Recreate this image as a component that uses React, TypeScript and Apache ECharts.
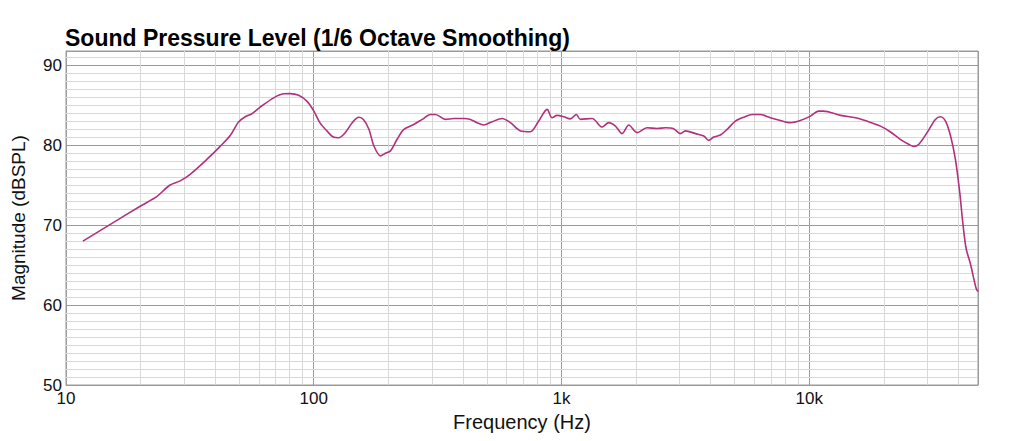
import React, { useEffect, useRef } from "react";
import * as echarts from "echarts";

const freqs = [
  11.7, 15.1, 20.0, 23.3, 26.2, 28.9, 31.8, 37.1, 42.0, 46.1, 49.7, 52.9, 56.3, 60.9, 68.9, 75.6, 80.5, 86.9, 94.0,
  100, 106, 113, 120, 126, 134, 143, 152, 159, 167, 175, 186, 194.5, 204, 217, 231, 253, 274, 296, 310, 340, 367,
  403, 429, 456, 485, 525, 576, 622, 683, 749, 809, 875, 916, 960, 1021, 1086, 1148, 1192, 1330, 1459, 1552, 1651,
  1757, 1868, 2019, 2217, 2432, 2627, 2836, 3019, 3162, 3473, 3753, 3930, 4116, 4379, 4662, 5037, 5445, 5887, 6357,
  6971, 7651, 8394, 9208, 10114, 10900, 11400, 13400, 15400, 17100, 19400, 21300, 23300, 25200, 26400, 27700, 29900,
  32300, 33900, 35500, 37200, 38900, 40500, 41800, 43000, 44700, 47200, 48000,
];
const spl = [
  68.0, 70.1, 72.4, 73.6, 75.0, 75.55, 76.4, 78.26, 79.9, 81.25, 82.9, 83.57, 83.95, 84.8, 85.94, 86.44, 86.47, 86.26,
  85.5, 84.3, 82.8, 81.8, 81.03, 80.95, 81.58, 82.83, 83.5, 83.2, 82.0, 79.9, 78.67, 79.0, 79.3, 80.75, 82.0, 82.6,
  83.24, 83.86, 83.86, 83.24, 83.36, 83.36, 83.24, 82.83, 82.53, 82.95, 83.36, 82.83, 81.8, 81.7, 83.03, 84.5, 83.45,
  83.74, 83.57, 83.3, 83.86, 83.24, 83.36, 82.28, 82.83, 82.4, 81.46, 82.53, 81.58, 82.2, 82.1, 82.2, 82.08, 81.46,
  81.8, 81.46, 81.16, 80.62, 81.03, 81.28, 82.0, 83.03, 83.52, 83.86, 83.86, 83.45, 83.1, 82.83, 83.1, 83.65, 84.27,
  84.27, 83.74, 83.45, 83.03, 82.4, 81.66, 80.75, 80.13, 79.84, 80.13, 81.58, 83.24, 83.57, 83.03, 81.16, 78.26, 74.1,
  69.95, 67.05, 65.2, 62.07, 61.7,
];

const xMajorLabels: Record<number, string> = { 10: "10", 100: "100", 1000: "1k", 10000: "10k" };
const xMinorLines = [
  20, 30, 40, 50, 60, 70, 80, 90, 200, 300, 400, 500, 600, 700, 800, 900, 2000, 3000, 4000, 5000, 6000, 7000, 8000,
  9000, 20000, 30000, 40000,
];
const yMinorLines = [
  51, 52, 53, 54, 55, 56, 57, 58, 59, 61, 62, 63, 64, 65, 66, 67, 68, 69, 71, 72, 73, 74, 75, 76, 77, 78, 79, 81, 82,
  83, 84, 85, 86, 87, 88, 89, 91,
];

export default function App() {
  const ref = useRef<HTMLDivElement>(null);
  useEffect(() => {
    if (!ref.current) return;
    const chart = echarts.init(ref.current, null, { renderer: "svg" });
    const data = freqs.map((f, i) => [f, spl[i]]);
    const font = "'Liberation Sans', Arial, Helvetica, sans-serif";
    const minorStyle = { color: "#d8d8d8", type: "solid" as const, width: 1 };
    chart.setOption({
      animation: false,
      backgroundColor: "#ffffff",
      title: {
        text: "Sound Pressure Level (1/6 Octave Smoothing)",
        left: 60,
        top: 21,
        textStyle: { fontSize: 23, fontWeight: "bold", color: "#000", fontFamily: font },
      },
      grid: {
        left: 66,
        right: 46,
        top: 51,
        bottom: 56,
        show: true,
        borderColor: "#9a9a9a",
        borderWidth: 1,
      },
      xAxis: {
        type: "log",
        logBase: 10,
        min: 10,
        max: 48000,
        name: "Frequency (Hz)",
        nameLocation: "middle",
        nameGap: 24,
        nameTextStyle: { fontSize: 20, color: "#111", fontFamily: font },
        axisLine: { show: true, lineStyle: { color: "#9a9a9a" } },
        axisTick: { show: false },
        axisLabel: {
          fontSize: 17,
          color: "#111",
          fontFamily: font,
          margin: 5,
          formatter: (v: number) => xMajorLabels[Math.round(v)] ?? "",
        },
        splitLine: { show: true, lineStyle: { color: "#9a9a9a", width: 1 } },
      },
      yAxis: {
        type: "value",
        min: 50,
        max: 91.8,
        interval: 10,
        name: "Magnitude (dBSPL)",
        nameLocation: "middle",
        nameGap: 38,
        nameTextStyle: { fontSize: 19, color: "#111", fontFamily: font },
        axisLine: { show: true, lineStyle: { color: "#9a9a9a" } },
        axisTick: { show: false },
        axisLabel: {
          fontSize: 17,
          color: "#111",
          fontFamily: font,
          margin: 4,
          formatter: (v: number) => (Math.abs(v % 10) < 1e-6 ? String(v) : ""),
        },
        splitLine: { show: true, lineStyle: { color: "#9a9a9a", width: 1 } },
      },
      series: [
        {
          type: "line",
          data,
          z: 1,
          showSymbol: false,
          silent: true,
          lineStyle: { opacity: 0 },
          markLine: {
            silent: true,
            symbol: ["none", "none"],
            label: { show: false },
            lineStyle: minorStyle,
            emphasis: { disabled: true },
            data: [
              ...xMinorLines.map((x) => ({ xAxis: x })),
              ...yMinorLines.map((y) => ({ yAxis: y })),
            ],
          },
        },
        {
          type: "line",
          data,
          z: 5,
          showSymbol: false,
          smooth: 0.3,
          lineStyle: { color: "#b3307d", width: 1.6 },
        },
      ],
    });
    return () => chart.dispose();
  }, []);
  return (
    <div
      ref={ref}
      style={{ position: "fixed", left: 0, top: 0, width: 1024, height: 441, background: "#fff" }}
    />
  );
}
